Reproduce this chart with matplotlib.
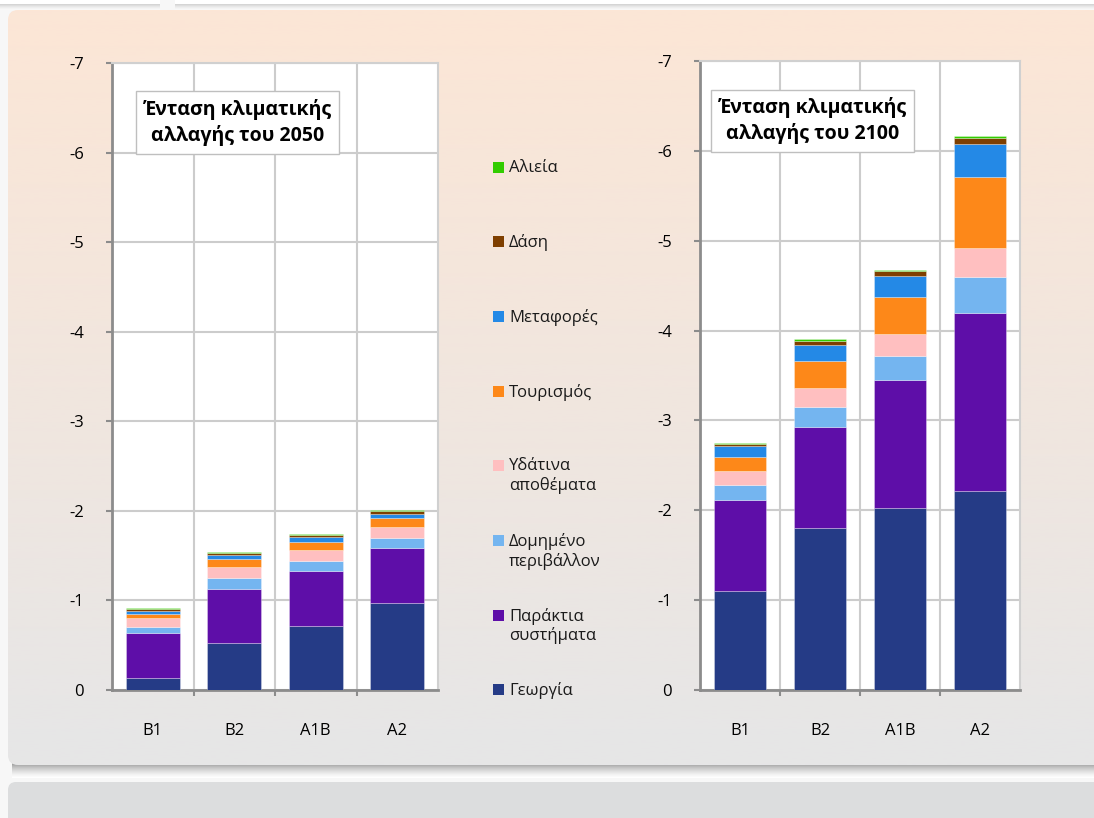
import numpy as np
import matplotlib
matplotlib.use("Agg")
import matplotlib.pyplot as plt
from matplotlib.patches import FancyBboxPatch, Rectangle

plt.rcParams['font.family'] = ['Open Sans', 'DejaVu Sans']

# ---- data -------------------------------------------------------------
scenarios = ["B1", "B2", "A1B", "A2"]
sectors = ["Γεωργία", "Παράκτια\nσυστήματα", "Δομημένο\nπεριβάλλον",
           "Υδάτινα\nαποθέματα", "Τουρισμός", "Μεταφορές", "Δάση", "Αλιεία"]
colors = ["#253B86", "#5E0EA8", "#74B5F0", "#FFBFC0",
          "#FD8819", "#2489E6", "#7F3F00", "#33CC00"]

# per-sector contributions (negative = loss), rows follow `sectors`
vals_2050 = [
    [-0.13, -0.52, -0.72, -0.97],
    [-0.51, -0.61, -0.61, -0.61],
    [-0.06, -0.12, -0.115, -0.12],
    [-0.10, -0.12, -0.12, -0.125],
    [-0.05, -0.09, -0.09, -0.095],
    [-0.03, -0.05, -0.05, -0.05],
    [-0.02, -0.025, -0.023, -0.03],
    [-0.015, -0.01, -0.012, -0.01],
]
vals_2100 = [
    [-1.10, -1.80, -2.03, -2.22],
    [-1.02, -1.13, -1.42, -1.97],
    [-0.16, -0.22, -0.27, -0.41],
    [-0.16, -0.21, -0.24, -0.32],
    [-0.15, -0.30, -0.41, -0.79],
    [-0.12, -0.18, -0.24, -0.37],
    [-0.03, -0.045, -0.05, -0.06],
    [-0.01, -0.025, -0.01, -0.02],
]
titles = ["Ένταση κλιματικής\nαλλαγής του 2050",
          "Ένταση κλιματικής\nαλλαγής του 2100"]

W, H = 1094, 818
fig = plt.figure(figsize=(W / 100, H / 100), dpi=100)
fig.patch.set_facecolor("#F7F7F7")

# ---- background panels (pixel coords) ---------------------------------
bg = fig.add_axes([0, 0, 1, 1], zorder=-10)
bg.set_xlim(0, W)
bg.set_ylim(H, 0)
bg.axis("off")

# top strips
for x0, x1 in [(-20, 160), (175, W + 20)]:
    bg.add_patch(Rectangle((x0, -10), x1 - x0, 14, fc="white", ec="none"))
    shade = np.linspace(0, 1, 20).reshape(-1, 1)
    bg.imshow(shade, extent=[x0, x1, 10, 3], cmap="Greys_r",
              vmin=-0.6, vmax=1.0, alpha=0.35, aspect="auto")

# main panel shadow
sh = np.linspace(0, 1, 30).reshape(-1, 1)
bg.imshow(sh, extent=[12, W + 20, 778, 762], cmap="Greys_r",
          vmin=-0.9, vmax=1.0, aspect="auto", zorder=1)
# main panel with vertical gradient
panel = FancyBboxPatch((8, 10), W + 40, 755,
                       boxstyle="round,pad=0,rounding_size=10",
                       fc="none", ec="none", transform=bg.transData)
bg.add_patch(panel)
top = np.array([252, 230, 214]) / 255
bot = np.array([230, 230, 231]) / 255
t = np.linspace(0, 1, 256)[:, None]
grad = (top[None, :] * (1 - t) + bot[None, :] * t)[:, None, :]
im = bg.imshow(grad, extent=[8, W + 48, 765, 10], aspect="auto", zorder=2)
im.set_clip_path(panel)

# bottom panel
bg.add_patch(FancyBboxPatch((8, 782), W + 40, 60,
                            boxstyle="round,pad=0,rounding_size=8",
                            fc="#DCDDDE", ec="none", zorder=2))

# ---- charts ------------------------------------------------------------
def px_rect(x0, y0, x1, y1):
    return [x0 / W, 1 - y1 / H, (x1 - x0) / W, (y1 - y0) / H]


def draw_chart(ax, vals, title, tx):
    x = np.arange(len(scenarios))
    bottom = np.zeros(len(scenarios))
    for row, col in zip(vals, colors):
        row = np.array(row)
        ax.bar(x, row, 0.66, bottom=bottom, color=col,
               edgecolor=(1, 1, 1, 0.35), linewidth=0.6, zorder=3)
        bottom = bottom + row
    ax.set_xlim(-0.5, len(scenarios) - 0.5)
    ax.set_ylim(0, -7)
    ax.set_yticks(np.arange(0, -8, -1))
    ax.set_yticklabels([str(v) for v in range(0, -8, -1)])
    ax.set_xticks(x)
    ax.set_xticklabels(scenarios)
    ax.set_xticks(np.arange(0.5, len(scenarios) - 0.5), minor=True)
    ax.grid(axis="y", color="#CCCCCC", linewidth=1.5, zorder=0)
    ax.grid(axis="x", which="minor", color="#CCCCCC", linewidth=1.5,
            zorder=0)
    ax.tick_params(axis="x", which="major", length=0, pad=24,
                   labelsize=12)
    ax.tick_params(axis="x", which="minor", length=4, width=1.5,
                   color="#8C8C8C")
    ax.tick_params(axis="y", length=4, width=1.5, color="#8C8C8C",
                   pad=16, labelsize=12)
    for s in ["top", "right"]:
        ax.spines[s].set_color("#D0D0D0")
        ax.spines[s].set_linewidth(1.5)
    for s in ["left", "bottom"]:
        ax.spines[s].set_color("#8C8C8C")
        ax.spines[s].set_linewidth(2)
    ax.set_facecolor("white")
    ax.text(tx, 0.905, title, transform=ax.transAxes, ha="center",
            va="center", fontsize=14, fontweight="bold",
            linespacing=1.3,
            bbox=dict(boxstyle="square,pad=0.4", fc="white",
                      ec="#BFBFBF", lw=1.0), zorder=5)


ax1 = fig.add_axes(px_rect(112, 63, 438, 690))
draw_chart(ax1, vals_2050, titles[0], 0.385)
ax2 = fig.add_axes(px_rect(700, 61, 1020, 690))
draw_chart(ax2, vals_2100, titles[1], 0.352)

# ---- legend (top = last sector) ---------------------------------------
leg_y0, leg_dy = 167, 74.7
for i, (lab, col) in enumerate(zip(sectors[::-1], colors[::-1])):
    yc = leg_y0 + i * leg_dy
    bg.add_patch(Rectangle((493, yc - 5.5), 11, 11, fc=col, ec="none",
                           zorder=5))
    bg.text(509, yc - 7.5, lab, ha="left", va="top", fontsize=12,
            linespacing=1.2, color="#1A1A1A", zorder=5)

fig.savefig("out.png", dpi=100)
